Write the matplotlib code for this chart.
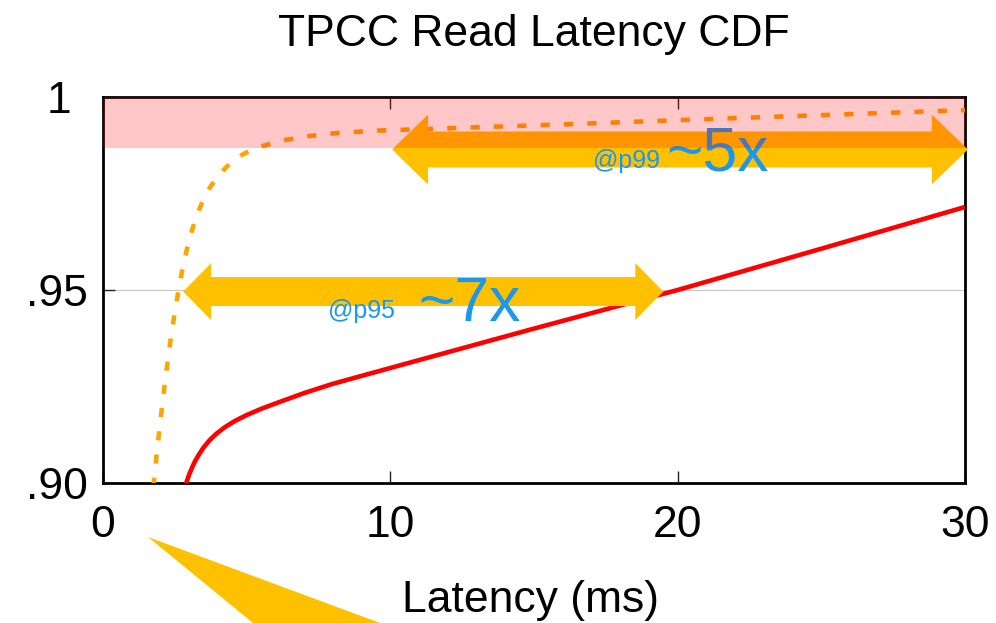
import matplotlib
matplotlib.use("Agg")
import matplotlib.pyplot as plt
from matplotlib.patches import Polygon
from matplotlib.transforms import ScaledTranslation

plt.rcParams['font.family'] = ['Liberation Sans', 'DejaVu Sans']

# CDF curves (latency in ms, cumulative fraction)
slow_latency = [2.85, 2.91, 3.0, 3.1, 3.2, 3.35, 3.5, 3.7, 3.95, 4.25, 4.6,
                5.0, 5.5, 6.0, 7.0, 8.0, 10, 15, 20, 25, 30]
slow_cdf = [0.8985, 0.9003, 0.9022, 0.9040, 0.9056, 0.9075, 0.9092, 0.9110,
            0.9128, 0.9145, 0.9161, 0.9176, 0.9192, 0.9206, 0.9233, 0.9257,
            0.9298, 0.9400, 0.9500, 0.9607, 0.9715]

fast_latency = [1.75, 1.80, 1.87, 1.95, 2.04, 2.14, 2.25, 2.37, 2.50, 2.64,
                2.80, 3.00, 3.25, 3.60, 4.00, 4.45, 4.90, 5.50, 6.30, 7.20,
                8.20, 9.60, 12, 16, 20, 25, 30]
fast_cdf = [0.8990, 0.9025, 0.9075, 0.9130, 0.9188, 0.9250, 0.9315, 0.9380,
            0.9443, 0.9505, 0.9568, 0.9630, 0.9692, 0.9752, 0.9796, 0.9830,
            0.9853, 0.9872, 0.9888, 0.9899, 0.9907, 0.9913, 0.9919, 0.9929,
            0.9940, 0.9953, 0.9966]

x_ticks = [0, 10, 20, 30]
y_ticks = [0.90, 0.95, 1.0]
y_tick_labels = ['.90', '.95', '1']

# tail band and gap annotations
tail_band = (0.9868, 1.0)
p95_level, p95_fast, p95_slow = 0.9496, 2.79, 19.5
p99_level, p99_fast, p99_slow = 0.9864, 10.06, 30.1

W, H = 996, 623
fig = plt.figure(figsize=(W / 100, H / 100), dpi=100)
ax_l, ax_r, ax_t, ax_b = 103, 965, 97, 483
ax = fig.add_axes([ax_l / W, 1 - ax_b / H, (ax_r - ax_l) / W, (ax_b - ax_t) / H])

ax.set_xlim(0, 30)
ax.set_ylim(0.90, 1.0)

ax.plot(slow_latency, slow_cdf, color='#ff0000', lw=3.3, zorder=3,
        solid_capstyle='butt', solid_joinstyle='round')
ax.plot(fast_latency, fast_cdf, color='#ffa500', lw=3.3, zorder=3,
        dashes=(2.0, 3.1), dash_capstyle='butt')

ax.set_xticks(x_ticks)
ax.set_xticklabels([str(t) for t in x_ticks])
ax.set_yticks(y_ticks)
ax.set_yticklabels(y_tick_labels)
ax.tick_params(direction='in', length=8.5, width=1.0, color='#222222',
               labelsize=32, top=True, right=False)
ax.tick_params(axis='x', pad=16)
ax.tick_params(axis='y', pad=11)
ax.grid(axis='y', color='#c8c8c8', lw=0.9, zorder=0)
ax.set_axisbelow(True)
for s in ax.spines.values():
    s.set_linewidth(2.0)
    s.set_color('black')

# the "1" label sits a little left of the others
top_label = ax.get_yticklabels()[-1]
top_label.set_transform(top_label.get_transform()
                        + ScaledTranslation(-16 / 100, 0, fig.dpi_scale_trans))

# pixel -> data scale factors
sx = 30 / (ax_r - ax_l)
sy = 0.10 / (ax_b - ax_t)


def double_arrow(x0, x1, y, shaft_px, head_px, head_len_px, color):
    hl = head_len_px * sx
    sh = shaft_px / 2 * sy
    hh = head_px / 2 * sy
    verts = [(x0, y), (x0 + hl, y + hh), (x0 + hl, y + sh), (x1 - hl, y + sh),
             (x1 - hl, y + hh), (x1, y), (x1 - hl, y - hh), (x1 - hl, y - sh),
             (x0 + hl, y - sh), (x0 + hl, y - hh)]
    ax.add_patch(Polygon(verts, closed=True, facecolor=color, edgecolor='none',
                         zorder=5, clip_on=False))


gold = '#ffc000'
double_arrow(p95_fast, p95_slow, p95_level, 29, 57, 28, gold)
double_arrow(p99_fast, p99_slow, p99_level, 36, 70, 36, gold)

blue = '#1a98ee'
ax.text(7.83, 0.94275, '@p95', fontsize=18, color=blue, zorder=6)
ax.text(10.96, 0.94197, '~7x', fontsize=45, color=blue, zorder=6)
ax.text(17.05, 0.98161, '@p99', fontsize=18, color=blue, zorder=6)
ax.text(19.59, 0.98083, '~5x', fontsize=45, color=blue, zorder=6)

# translucent red band over the tail region
ax.axhspan(tail_band[0], tail_band[1], facecolor='#ff0000', alpha=0.22,
           lw=0, zorder=10)

fig.text(534 / W, 1 - 46 / H, 'TPCC Read Latency CDF', fontsize=32,
         ha='center', va='baseline')
fig.text(531 / W, 1 - 612 / H, 'Latency (ms)', fontsize=32,
         ha='center', va='baseline')

# callout wedge below the axis
wedge = [(148, 537), (253, 623), (262, 630), (400, 630), (380, 623)]
fig.add_artist(Polygon([(px / W, 1 - py / H) for px, py in wedge],
                       closed=True, facecolor=gold, edgecolor='none',
                       transform=fig.transFigure))

fig.savefig('out.png', dpi=100)
